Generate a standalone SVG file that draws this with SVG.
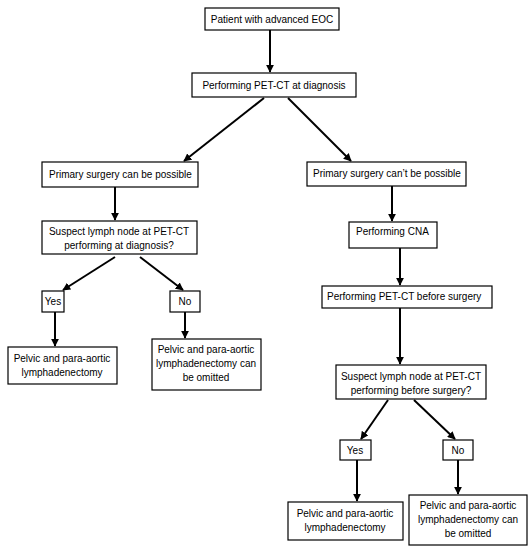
<svg xmlns="http://www.w3.org/2000/svg" width="531" height="550" viewBox="0 0 531 550">
<style>
.b{fill:#fff;stroke:#000;stroke-width:1.2}
.t{font-family:"Liberation Sans",Arial,sans-serif;font-size:10px;fill:#000}
.c{text-anchor:middle}
.e{stroke:#000;stroke-width:2;fill:none;marker-end:url(#ah)}
</style>
<defs>
<marker id="ah" viewBox="0 0 10 10" refX="9" refY="5" markerWidth="4" markerHeight="4" orient="auto" markerUnits="strokeWidth">
<path d="M0,0 L10,5 L0,10 z" fill="#000"/>
</marker>
</defs>
<rect width="531" height="550" fill="#fff"/>
<g id="connectors">
<line class="e" x1="270" y1="30" x2="270" y2="72"/>
<line class="e" x1="264" y1="98" x2="184" y2="161"/>
<line class="e" x1="288" y1="98" x2="351" y2="161"/>
<line class="e" x1="115" y1="187" x2="115" y2="220"/>
<line class="e" x1="392" y1="186" x2="392" y2="221"/>
<line class="e" x1="115" y1="257" x2="63" y2="290"/>
<line class="e" x1="140" y1="257" x2="183" y2="290"/>
<line class="e" x1="55" y1="312" x2="55" y2="346"/>
<line class="e" x1="185" y1="312" x2="185" y2="338"/>
<line class="e" x1="400" y1="248" x2="400" y2="285"/>
<line class="e" x1="400" y1="308" x2="400" y2="364"/>
<line class="e" x1="388" y1="400" x2="361" y2="439"/>
<line class="e" x1="414" y1="400" x2="455" y2="439"/>
<line class="e" x1="357" y1="460" x2="357" y2="501"/>
<line class="e" x1="458" y1="460" x2="458" y2="494"/>
</g>
<g id="n1"><rect class="b" x="205" y="8" width="134" height="22"/><text class="t c" x="272" y="23">Patient with advanced EOC</text></g>
<g id="n2"><rect class="b" x="192" y="73" width="164" height="24"/><text class="t c" x="274" y="89">Performing PET-CT at diagnosis</text></g>
<g id="n3"><rect class="b" x="42" y="162" width="156" height="25"/><text class="t" x="49" y="178">Primary surgery can be possible</text></g>
<g id="n4"><rect class="b" x="307" y="162" width="159" height="24"/><text class="t" x="313" y="177">Primary surgery can’t be possible</text></g>
<g id="n5"><rect class="b" x="42" y="221" width="155" height="33"/><text class="t c" x="119" y="235">Suspect lymph node at PET-CT</text><text class="t c" x="119" y="249">performing at diagnosis?</text></g>
<g id="n6"><rect class="b" x="42" y="291" width="22" height="21"/><text class="t c" x="53" y="305">Yes</text></g>
<g id="n7"><rect class="b" x="170" y="291" width="30" height="21"/><text class="t c" x="185" y="305">No</text></g>
<g id="n8"><rect class="b" x="8" y="347" width="109" height="37"/><text class="t c" x="62" y="362">Pelvic and para-aortic</text><text class="t c" x="62" y="376">lymphadenectomy</text></g>
<g id="n9"><rect class="b" x="152" y="339" width="109" height="51"/><text class="t c" x="206" y="353">Pelvic and para-aortic</text><text class="t c" x="206" y="367">lymphadenectomy can</text><text class="t c" x="206" y="381">be omitted</text></g>
<g id="n10"><rect class="b" x="349" y="222" width="88" height="26"/><text class="t" x="356" y="235">Performing CNA</text></g>
<g id="n11"><rect class="b" x="322" y="286" width="170" height="22"/><text class="t" x="327" y="300">Performing PET-CT before surgery</text></g>
<g id="n12"><rect class="b" x="336" y="365" width="150" height="34"/><text class="t c" x="411" y="380">Suspect lymph node at PET-CT</text><text class="t c" x="411" y="394">performing before surgery?</text></g>
<g id="n13"><rect class="b" x="340" y="440" width="31" height="20"/><text class="t c" x="355" y="454">Yes</text></g>
<g id="n14"><rect class="b" x="443" y="440" width="30" height="20"/><text class="t c" x="458" y="454">No</text></g>
<g id="n15"><rect class="b" x="288" y="502" width="115" height="38"/><text class="t c" x="345" y="517">Pelvic and para-aortic</text><text class="t c" x="345" y="531">lymphadenectomy</text></g>
<g id="n16"><rect class="b" x="409" y="495" width="118" height="50"/><text class="t c" x="468" y="509">Pelvic and para-aortic</text><text class="t c" x="468" y="523">lymphadenectomy can</text><text class="t c" x="468" y="537">be omitted</text></g>
</svg>
